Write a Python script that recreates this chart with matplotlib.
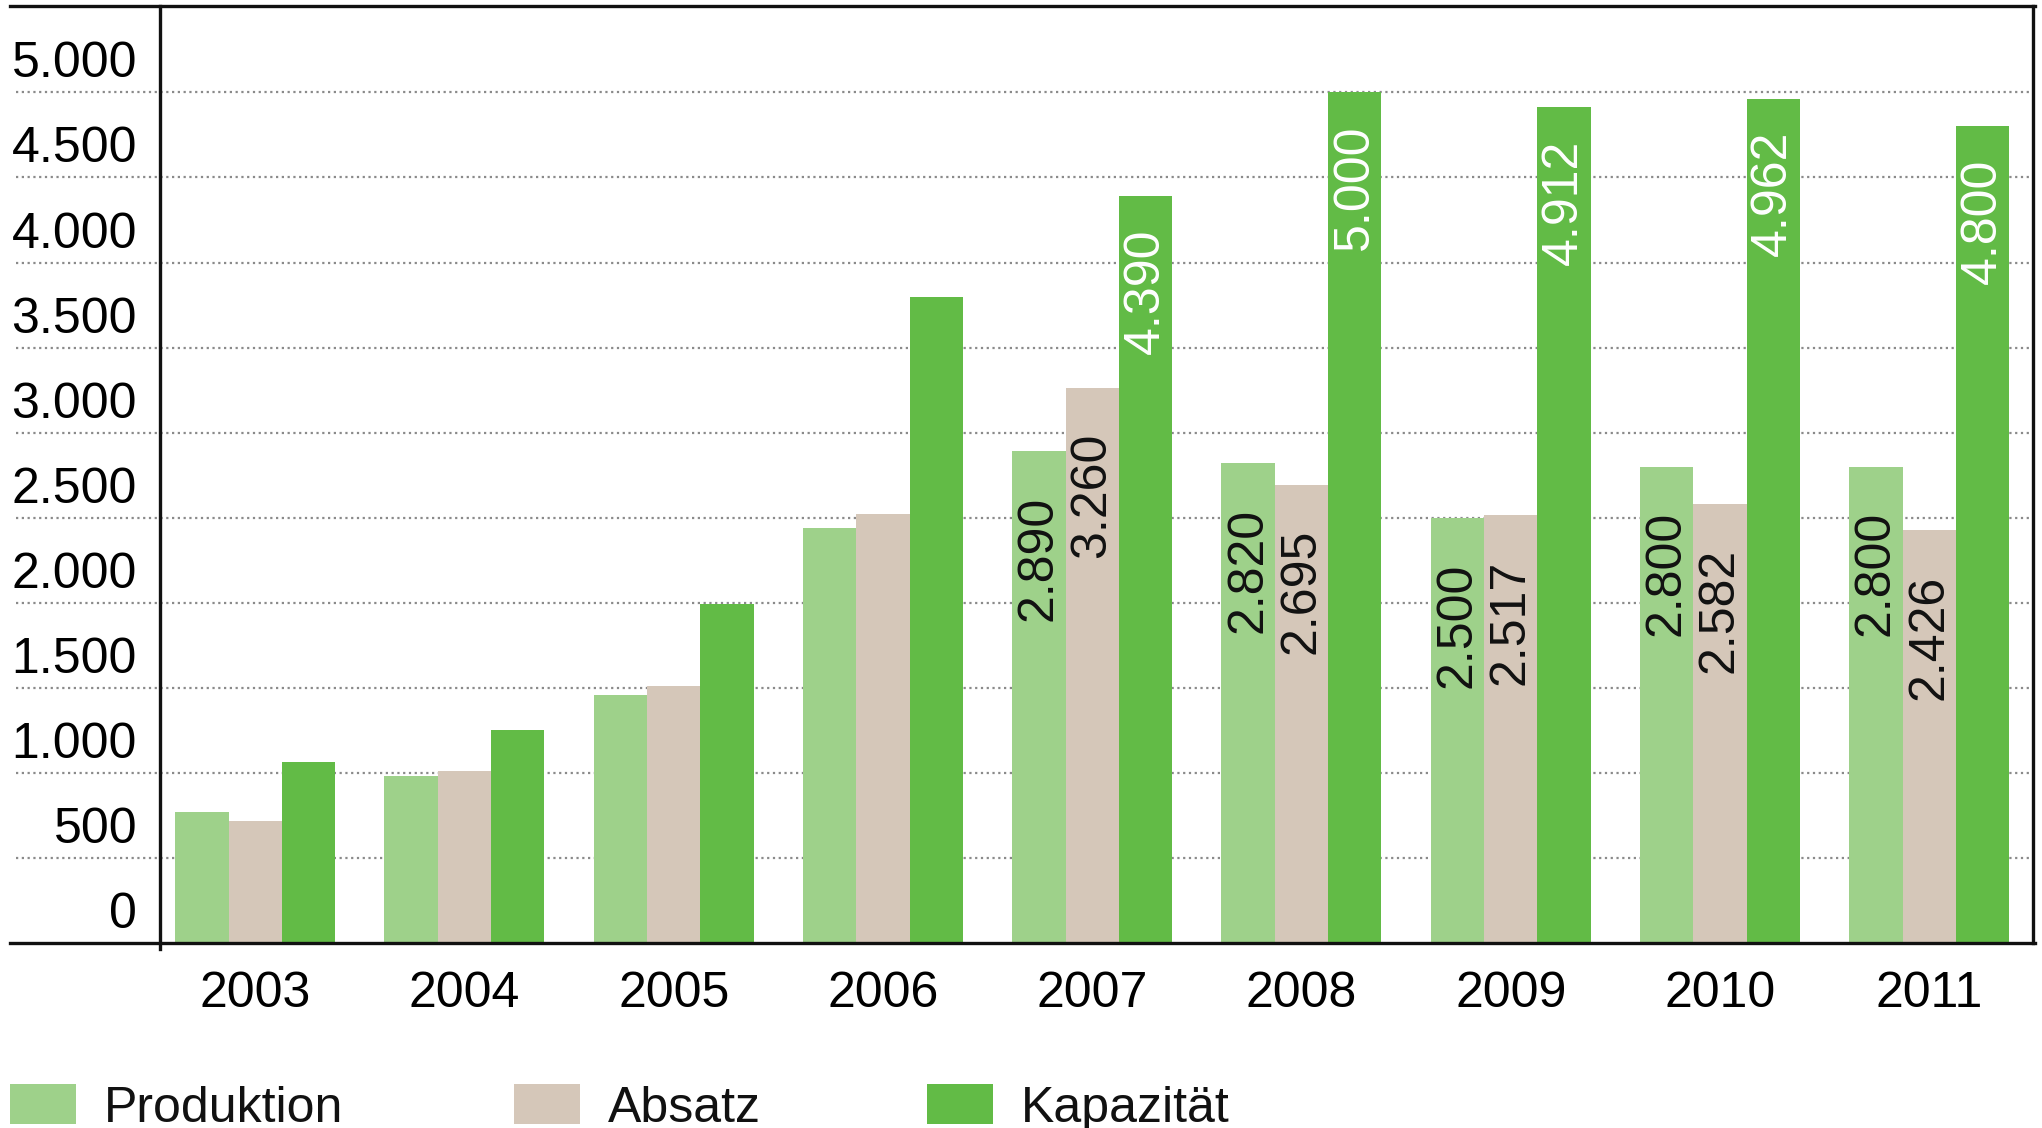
import matplotlib
matplotlib.use("Agg")
import matplotlib.pyplot as plt
from matplotlib.patches import Rectangle
from matplotlib.transforms import ScaledTranslation
import numpy as np

plt.rcParams['font.family'] = ['Liberation Sans', 'DejaVu Sans']

years = ['2003', '2004', '2005', '2006', '2007', '2008', '2009', '2010', '2011']
produktion = [770, 980, 1460, 2440, 2890, 2820, 2500, 2800, 2800]
absatz = [720, 1010, 1510, 2520, 3260, 2695, 2517, 2582, 2426]
kapazitaet = [1065, 1250, 1990, 3800, 4390, 5000, 4912, 4962, 4800]
series_names = ['Produktion', 'Absatz', 'Kapazität']
labelled_from = 4  # values written into bars from 2007 on

colors = ['#9ed18a', '#d5c7b9', '#62bb46']
label_colors = ['#111111', '#111111', 'white']
label_drop = [32, 32, 23]  # points below the bar top
yticks = list(range(0, 5001, 500))


def de_format(v):
    return f"{v:,.0f}".replace(',', '.')


fig = plt.figure(figsize=(20.42, 11.28), dpi=100)
ax = fig.add_axes([160 / 2042, 1 - 943 / 1128, (2033 - 160) / 2042, (943 - 6) / 1128])

x = np.arange(len(years))
w = 0.255
FS = 36

for k, vals in enumerate([produktion, absatz, kapazitaet]):
    xs = x + (k - 1) * w
    ax.bar(xs, vals, width=w, color=colors[k], zorder=3, linewidth=0)
    for i in range(labelled_from, len(years)):
        ax.annotate(de_format(vals[i]), (xs[i], vals[i]), xytext=(0, -label_drop[k]),
                    textcoords='offset points', rotation=90, ha='center', va='top',
                    fontsize=FS, color=label_colors[k], zorder=4)

ax.set_xlim(-0.455, 8.496)
ax.set_ylim(0, 5508)

# dotted grid reaching out past the y axis
for v in yticks[1:]:
    ax.axhline(v, xmin=-0.077, xmax=1, color='#8a8a8a', lw=1.6,
               linestyle=(0, (1, 1.6)), clip_on=False, zorder=1)

for s in ['left', 'right', 'top', 'bottom']:
    ax.spines[s].set_visible(False)
ax.axhline(ax.get_ylim()[1], xmin=-0.080, xmax=1.001, color='#111111', lw=2.4, clip_on=False)
ax.axhline(0, xmin=-0.080, xmax=1.001, color='#111111', lw=2.4, clip_on=False, zorder=5)
ax.axvline(-0.455, ymin=-0.006, ymax=1, color='#111111', lw=2.4, clip_on=False, zorder=5)
ax.axvline(8.496, ymin=0, ymax=1, color='#111111', lw=2.4, clip_on=False, zorder=5)

ax.set_yticks(yticks)
ax.set_yticklabels([de_format(v) for v in yticks], fontsize=FS)
ax.tick_params(axis='y', length=0, pad=16.5)
shift_up = ScaledTranslation(0, 15 / 100, fig.dpi_scale_trans)
for lab in ax.get_yticklabels():
    lab.set_va('baseline')
    lab.set_transform(lab.get_transform() + shift_up)

ax.set_xticks(x)
ax.set_xticklabels(years, fontsize=FS)
ax.tick_params(axis='x', length=0, pad=20.5)

# legend along the bottom
legend_x = [10, 514, 927]
for k, name in enumerate(series_names):
    x0 = legend_x[k]
    fig.add_artist(Rectangle((x0 / 2042, 1 - 1124 / 1128), 66 / 2042, 40 / 1128,
                             transform=fig.transFigure, color=colors[k], lw=0))
    fig.text((x0 + 94) / 2042, 1 - 1122 / 1128, name, fontsize=FS, va='baseline',
             ha='left', color='#111111')

fig.savefig('out.png', dpi=100)
